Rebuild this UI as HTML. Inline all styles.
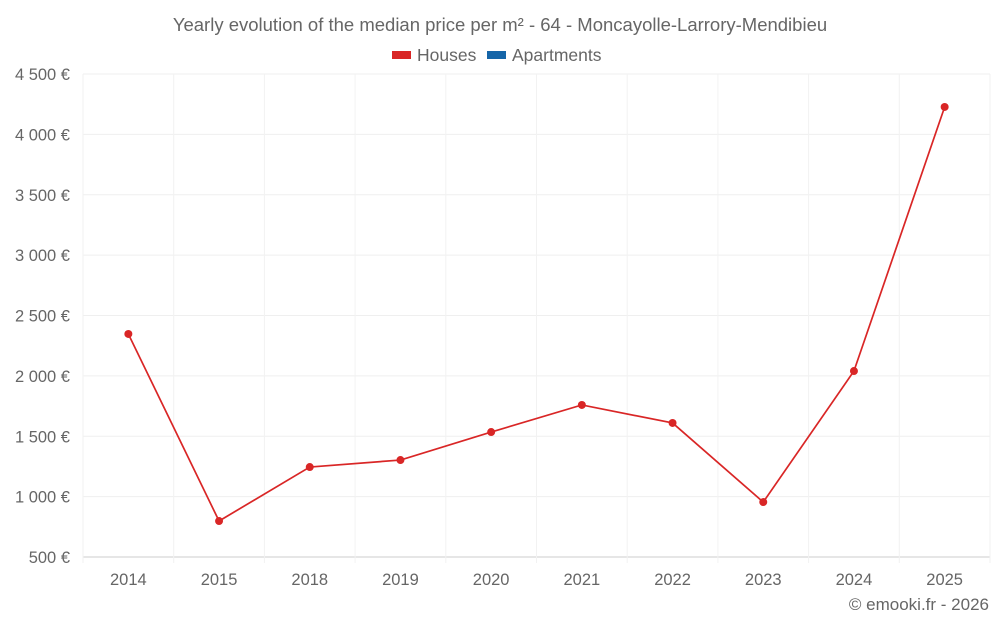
<!DOCTYPE html>
<html><head><meta charset="utf-8"><style>
body{margin:0;background:#fff;font-family:"Liberation Sans",sans-serif;}
</style></head><body>
<svg width="1000" height="625" xmlns="http://www.w3.org/2000/svg" style="font-family:'Liberation Sans',sans-serif;fill:#666">
<text x="500" y="31" text-anchor="middle" font-size="18.5" fill="#666">Yearly evolution of the median price per m² - 64 - Moncayolle-Larrory-Mendibieu</text>
<g><rect x="392" y="51" width="19" height="8" fill="#d92626"/><text x="417" y="61" font-size="17.5" fill="#666">Houses</text></g>
<g><rect x="487" y="51" width="19" height="8" fill="#1565a8"/><text x="512" y="61" font-size="17.5" fill="#666">Apartments</text></g>
<g id="grid"></g><g id="axes"></g><g id="series"></g>
<text x="989" y="610" text-anchor="end" font-size="17" fill="#666">© emooki.fr - 2026</text>
</svg>
<script>
const categories=["2014","2015","2018","2019","2020","2021","2022","2023","2024","2025"];
const houses=[2347,798,1245,1303,1535,1759,1610,955,2040,4227];
const yTicks=[500,1000,1500,2000,2500,3000,3500,4000,4500];
const yTickLabels=["500 €","1 000 €","1 500 €","2 000 €","2 500 €","3 000 €","3 500 €","4 000 €","4 500 €"];
const NS="http://www.w3.org/2000/svg";
const L=83,R=990,T=74,B=557,yMin=500,yMax=4500;
const bw=(R-L)/categories.length;
function xS(i){return L+bw*(i+0.5);}
function yS(v){return B-(v-yMin)/(yMax-yMin)*(B-T);}
function mk(tag,at,parent){const e=document.createElementNS(NS,tag);for(const k in at)e.setAttribute(k,at[k]);parent.appendChild(e);return e;}
const grid=document.getElementById('grid'),axes=document.getElementById('axes'),series=document.getElementById('series');
yTicks.forEach((t,i)=>{
 const l=mk('line',{x1:L,x2:R,y1:yS(t),y2:yS(t),stroke:i==0?'#ccc':'#efefef','stroke-width':1},grid);
 
 
 const tx=mk('text',{x:70,y:yS(t)+6,'text-anchor':'end','font-size':16.5,fill:'#666'},axes);
 tx.textContent=yTickLabels[i];
 
 
});
for(let i=0;i<=categories.length;i++){
 const x=L+bw*i;
 const l=mk('line',{x1:x,x2:x,y1:T,y2:B+6,stroke:'#f2f2f2','stroke-width':1},grid);
 
 
}
categories.forEach((c,i)=>{
 const tx=mk('text',{x:xS(i),y:585,'text-anchor':'middle','font-size':16.5,fill:'#666'},axes);
 tx.textContent=c;
 
 
});
const p=mk('polyline',{points:houses.map((v,i)=>xS(i)+','+yS(v)).join(' '),fill:'none',stroke:'#d92626','stroke-width':1.7},series);


houses.forEach((v,i)=>{
 const c=mk('circle',{cx:xS(i),cy:yS(v),r:4,fill:'#d92626'},series);
 
 
});
</script>
</body></html>
